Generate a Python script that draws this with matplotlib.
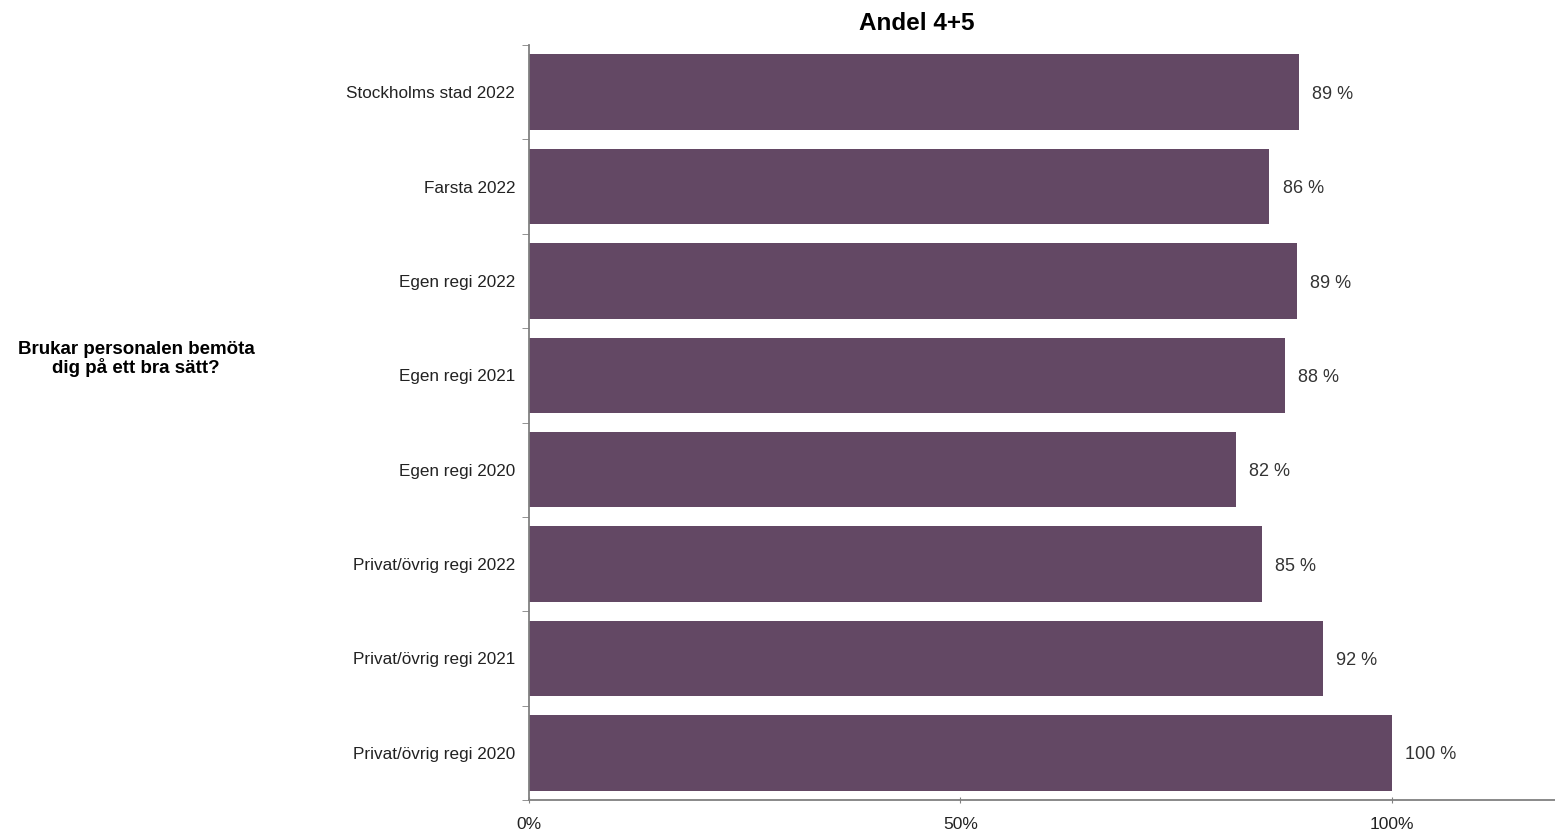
import matplotlib
matplotlib.use("Agg")
import matplotlib.pyplot as plt
from matplotlib.ticker import FixedLocator

plt.rcParams['font.family'] = ['Liberation Sans', 'DejaVu Sans']

# ---- Data ----
categories = ["Stockholms stad 2022", "Farsta 2022", "Egen regi 2022", "Egen regi 2021",
              "Egen regi 2020", "Privat/övrig regi 2022", "Privat/övrig regi 2021",
              "Privat/övrig regi 2020"]
values = [89.2, 85.8, 89.0, 87.6, 81.9, 84.9, 92.0, 100.0]
question = "Brukar personalen bemöta\ndig på ett bra sätt?"
title = "Andel 4+5"
xticks = [0, 50, 100]
xtick_labels = ["0%", "50%", "100%"]

BAR_COLOR = "#634864"
AXIS_COLOR = "#808080"

fig = plt.figure(figsize=(15.55, 8.32), dpi=100)
ax = fig.add_axes([529 / 1555, 32 / 832, 1.2 * 863 / 1555, 755 / 832])

y = list(range(len(categories)))
ax.barh(y, values, height=0.8, color=BAR_COLOR)
ax.set_ylim(len(categories) - 0.5, -0.5)
ax.set_xlim(0, 120)

# value labels to the right of each bar
for yi, v in zip(y, values):
    ax.annotate(f"{v:.0f} %", (v, yi), xytext=(9.5, -1.5), textcoords="offset points",
                va="center", ha="left", fontsize=13, color="#333333")

# spines
for s in ["top", "right"]:
    ax.spines[s].set_visible(False)
for s in ["left", "bottom"]:
    ax.spines[s].set_color(AXIS_COLOR)
    ax.spines[s].set_linewidth(1.3)

# y ticks: labels at centers, tick marks at boundaries
ax.set_yticks(y)
ax.set_yticklabels(categories, fontsize=12.3, color="#222222")
ax.tick_params(axis="y", which="major", length=0, pad=10)
ax.yaxis.set_minor_locator(FixedLocator([i - 0.5 for i in range(len(categories) + 1)]))
ax.tick_params(axis="y", which="minor", length=5, color=AXIS_COLOR, direction="out")

ax.set_xticks(xticks)
ax.set_xticklabels(xtick_labels, fontsize=12.5, color="#222222")
ax.tick_params(axis="x", length=5, color=AXIS_COLOR, direction="inout", pad=10)

fig.text(917 / 1555, 1 - 23 / 832, title, ha="center", va="center",
         fontsize=17.5, fontweight="bold")
fig.text(136 / 1555, 1 - 359 / 832, question, ha="center", va="center",
         fontsize=13.5, fontweight="bold", linespacing=1.0)

fig.savefig("out.png", dpi=100)
